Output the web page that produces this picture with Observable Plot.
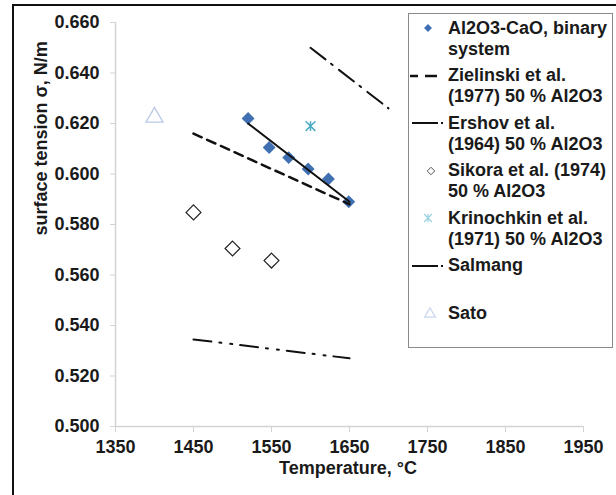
<!DOCTYPE html>
<html><head><meta charset="utf-8">
<script src="https://cdn.jsdelivr.net/npm/d3@7"></script>
<script src="https://cdn.jsdelivr.net/npm/@observablehq/plot@0.6"></script>
<style>
body{margin:0;background:#fff;overflow:hidden;font-family:"Liberation Sans",Arial,sans-serif;}
#wrap{position:relative;width:616px;height:495px;overflow:hidden;background:#fff;}
#frame{position:absolute;left:12px;top:4px;width:700px;height:600px;border-left:2px solid #111;border-top:2px solid #111;}
#chart{position:absolute;left:0;top:0;}
#legend{position:absolute;left:408px;top:13px;width:205px;height:335px;border:1px solid #8a8a8a;background:#fff;box-sizing:border-box;}
.entry{position:absolute;left:448px;font-size:18px;font-weight:bold;line-height:21px;color:#1a1a1a;white-space:nowrap;}
.sym{position:absolute;left:400px;}
</style>
</head><body>
<div id="wrap"><div id="frame"></div><div id="chart"></div><div id="legend"></div></div>
<script>
// ---- data ----
const binaryT = [1520, 1547, 1572, 1597, 1623, 1649];
const binarySigma = [0.622, 0.6105, 0.6065, 0.602, 0.598, 0.589];
const binaryFitT = [1520, 1650];
const binaryFitSigma = [0.620, 0.589];
const zielinskiT = [1450, 1650];
const zielinskiSigma = [0.616, 0.588];
const ershovT = [1600, 1700];
const ershovSigma = [0.650, 0.626];
const sikoraT = [1450, 1500, 1550];
const sikoraSigma = [0.5848, 0.5705, 0.5657];
const krinochkinT = [1600];
const krinochkinSigma = [0.619];
const salmangT = [1450, 1650];
const salmangSigma = [0.5345, 0.527];
const satoT = [1400];
const satoSigma = [0.6225];
const xTicks = [1350, 1450, 1550, 1650, 1750, 1850, 1950];
const yTicks = [0.500, 0.520, 0.540, 0.560, 0.580, 0.600, 0.620, 0.640, 0.660];
const xTitle = "Temperature, °C";
const yTitle = "surface tension σ, N/m";
const legendLabels = [
  ["Al2O3-CaO, binary", "system"],
  ["Zielinski et al.", "(1977) 50 % Al2O3"],
  ["Ershov et al.", "(1964) 50 % Al2O3"],
  ["Sikora et al. (1974)", "50 % Al2O3"],
  ["Krinochkin et al.", "(1971) 50 % Al2O3"],
  ["Salmang"],
  ["Sato"]
];

const pts = (xs, ys) => xs.map((x, i) => ({x, y: ys[i]}));

const BLUE = "#4070b2", TEAL = "#4bacc6", LIGHT = "#b8c9e8", INK = "#1a1a1a", AXIS = "#d3d3d3";

// Excel-style star marker: an X with a vertical stroke
const starSymbol = {
  draw(context, size) {
    const h = Math.sqrt(size / Math.PI) * 0.9;
    context.moveTo(-h, -h); context.lineTo(h, h);
    context.moveTo(-h, h); context.lineTo(h, -h);
    context.moveTo(0, -h); context.lineTo(0, h);
  }
};

const chart = Plot.plot({
  width: 616, height: 495,
  marginLeft: 115, marginRight: 33, marginTop: 22, marginBottom: 69,
  x: {domain: [1350, 1950]},
  y: {domain: [0.5, 0.66]},
  style: {fontFamily: "'Liberation Sans', Arial, sans-serif", fontSize: "18px", fontWeight: "bold", color: INK, background: "transparent", overflow: "visible"},
  marks: [
    Plot.ruleX([1350], {stroke: AXIS, strokeWidth: 1.5}),
    Plot.ruleY([0.5], {stroke: AXIS, strokeWidth: 1.5}),
    Plot.axisX({ticks: xTicks, tickSize: 6, tickPadding: 8, stroke: AXIS, fill: INK, tickFormat: d => String(d), label: null}),
    Plot.axisY({ticks: yTicks, tickSize: 5, tickPadding: 11, stroke: AXIS, fill: INK, tickFormat: d3.format(".3f"), label: null}),
    Plot.text([xTitle], {frameAnchor: "bottom", dy: 47, dx: -1.5, fill: INK, text: d => d}),
    Plot.text([yTitle], {frameAnchor: "left", rotate: -90, dx: -74, dy: 11, fill: INK, text: d => d}),
    // markers
    Plot.dot(pts(binaryT, binarySigma), {x: "x", y: "y", symbol: "diamond2", r: 5.8, fill: BLUE, stroke: "none"}),
    Plot.dot(pts(sikoraT, sikoraSigma), {x: "x", y: "y", symbol: "diamond2", r: 6.7, fill: "white", stroke: "#222", strokeWidth: 1.2}),
    Plot.dot(pts(krinochkinT, krinochkinSigma), {x: "x", y: "y", symbol: starSymbol, r: 5.4, stroke: TEAL, strokeWidth: 1.5}),
    Plot.dot(pts(satoT, satoSigma), {x: "x", y: "y", symbol: "triangle", r: 6.3, fill: "white", stroke: LIGHT, strokeWidth: 1.3}),
    // lines
    Plot.line(pts(binaryFitT, binaryFitSigma), {x: "x", y: "y", stroke: "#111", strokeWidth: 2}),
    Plot.line(pts(zielinskiT, zielinskiSigma), {x: "x", y: "y", stroke: "#111", strokeWidth: 2.5, strokeDasharray: "9,6"}),
    Plot.line(pts(ershovT, ershovSigma), {x: "x", y: "y", stroke: "#111", strokeWidth: 2, strokeDasharray: "19,7,2,8"}),
    Plot.line(pts(salmangT, salmangSigma), {x: "x", y: "y", stroke: "#111", strokeWidth: 2, strokeDasharray: "18,8,2,9,2,8"})
  ]
});
document.getElementById("chart").appendChild(chart);

// ---- legend ----
const wrap = document.getElementById("wrap");
const centers = legendLabels.map((_, i) => 28 + 47.5 * i);
const sym = (type, size) => d3.symbol(type, size)();
const drawers = [
  g => g.append("path").attr("d", sym(d3.symbolDiamond2, 40)).attr("transform", "translate(28,10)").attr("fill", BLUE),
  g => g.append("path").attr("d", "M10,10H18M25,10H37").attr("stroke", "#111").attr("stroke-width", 2.5).attr("fill", "none"),
  g => g.append("path").attr("d", "M12,10H38M41,10H43").attr("stroke", "#111").attr("stroke-width", 2).attr("fill", "none"),
  g => g.append("path").attr("d", sym(d3.symbolDiamond2, 36)).attr("transform", "translate(31,10)").attr("fill", "white").attr("stroke", "#555").attr("stroke-width", 1),
  g => g.append("path").attr("d", sym(starSymbol, 60)).attr("transform", "translate(28,10)").attr("fill", "none").attr("stroke", "#9fd3e0").attr("stroke-width", 1.3),
  g => g.append("path").attr("d", "M12,10H38M41,10H43").attr("stroke", "#111").attr("stroke-width", 2).attr("fill", "none"),
  g => g.append("path").attr("d", sym(d3.symbolTriangle, 50)).attr("transform", "translate(30,11)").attr("fill", "white").attr("stroke", "#c9d6ef").attr("stroke-width", 1.2)
];
legendLabels.forEach((lines, i) => {
  const c = centers[i];
  const d = document.createElement("div");
  d.className = "entry";
  d.style.top = (c - 10.5) + "px";
  d.innerHTML = lines.join("<br>");
  wrap.appendChild(d);
  const s = d3.select(wrap).append("svg").attr("class", "sym").attr("width", 48).attr("height", 20).style("top", (c - 10) + "px");
  drawers[i](s);
});
</script>
</body></html>
